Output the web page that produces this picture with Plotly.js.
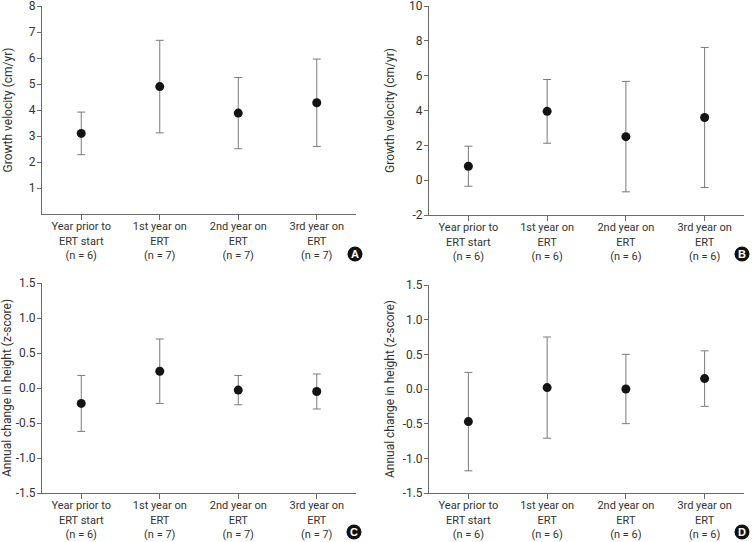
<!DOCTYPE html>
<html>
<head>
<meta charset="utf-8">
<script src="https://cdn.plot.ly/plotly-3.0.1.min.js"></script>
<style>html,body{margin:0;padding:0;background:#fff;}#chart{width:752px;height:542px;}</style>
</head>
<body>
<div id="chart"></div>
<script>
// ---- data ----
const periods = ["Year prior to<br>ERT start", "1st year on<br>ERT", "2nd year on<br>ERT", "3rd year on<br>ERT"];
const nA = [6, 7, 7, 7];
const nB = [6, 6, 6, 6];
const nC = [6, 7, 7, 7];
const nD = [6, 6, 6, 6];

const meanA = [3.10, 4.90, 3.88, 4.28];
const sdA   = [0.82, 1.78, 1.37, 1.68];
const meanB = [0.80, 3.95, 2.50, 3.60];
const sdB   = [1.15, 1.83, 3.17, 4.02];
const meanC = [-0.22, 0.24, -0.03, -0.05];
const sdC   = [0.40, 0.46, 0.21, 0.25];
const meanD = [-0.47, 0.02, 0.00, 0.15];
const sdD   = [0.71, 0.73, 0.50, 0.40];

const ticksA = [1, 2, 3, 4, 5, 6, 7, 8];
const labelsA = ["1", "2", "3", "4", "5", "6", "7", "8"];
const ticksB = [-2, 0, 2, 4, 6, 8, 10];
const labelsB = ["-2", "0", "2", "4", "6", "8", "10"];
const ticksCD = [-1.5, -1.0, -0.5, 0.0, 0.5, 1.0, 1.5];
const labelsCD = ["-1.5", "-1.0", "-0.5", "0.0", "0.5", "1.0", "1.5"];
const panelLetters = ["A", "B", "C", "D"];
const titleGV = "Growth velocity (cm/yr)";
const titleHt = "Annual change in height (z-score)";

// ---- build ----
function cats(n) { return periods.map((p, i) => p + "<br>(n = " + n[i] + ")"); }

const FONT = "Roboto, Arial, sans-serif";
const AX = "#6a6a6a";
const TXT = "#333";

function trace(xa, ya, n, mean, sd) {
  return {
    type: "scatter", mode: "markers",
    x: cats(n), y: mean, xaxis: xa, yaxis: ya,
    marker: {size: 9, color: "#141414"},
    error_y: {type: "data", array: sd, visible: true, color: "#7a7a7a", thickness: 1, width: 4},
    showlegend: false, hoverinfo: "skip"
  };
}

const data = [
  trace("x", "y", nA, meanA, sdA),
  trace("x2", "y2", nB, meanB, sdB),
  trace("x3", "y3", nC, meanC, sdC),
  trace("x4", "y4", nD, meanD, sdD)
];

function xaxis(dom, anchor) {
  return {
    domain: dom, anchor: anchor, type: "category", range: [-0.5, 3.5],
    showline: true, linecolor: AX, linewidth: 1, showgrid: false, zeroline: false,
    ticks: "outside", ticklen: 5, tickcolor: AX, ticklabelstandoff: -3,
    tickfont: {family: FONT, size: 11, color: TXT}
  };
}
function yaxis(dom, anchor, range, tickvals, ticktext, title, standoff) {
  return {
    domain: dom, anchor: anchor, range: range, tickvals: tickvals, ticktext: ticktext,
    showline: true, linecolor: AX, linewidth: 1, showgrid: false, zeroline: false,
    ticks: "outside", ticklen: 4, tickcolor: AX, ticklabeloverflow: "allow",
    ticklabelstandoff: -1,
    tickfont: {family: FONT, size: 12, color: TXT},
    title: {text: title, font: {family: FONT, size: 12, color: TXT}, standoff: standoff}
  };
}

const W = 752, H = 542;
const px = v => v / W, py = v => 1 - v / H;

const xL = [px(42), px(356)], xR = [px(429), px(744)];
const layout = {
  width: W, height: H, margin: {l: 0, r: 0, t: 0, b: 0},
  paper_bgcolor: "#fff", plot_bgcolor: "#fff",
  font: {family: FONT},
  xaxis: xaxis(xL, "y"),
  yaxis: yaxis([py(214), py(6)], "x", [0, 8], ticksA, labelsA, titleGV, 13),
  xaxis2: xaxis(xR, "y2"),
  yaxis2: yaxis([py(215), py(6)], "x2", [-2, 10], ticksB, labelsB, titleGV, 11),
  xaxis3: xaxis(xL, "y3"),
  yaxis3: yaxis([py(493), py(283)], "x3", [-1.5, 1.5], ticksCD, labelsCD, titleHt, 6),
  xaxis4: xaxis(xR, "y4"),
  yaxis4: yaxis([py(493), py(285)], "x4", [-1.5, 1.5], ticksCD, labelsCD, titleHt, 5),
  shapes: [], annotations: []
};

const letterPos = [[355, 254], [742, 254], [354, 532], [742, 532]];
panelLetters.forEach((L, i) => {
  const [cx, cy] = letterPos[i];
  layout.shapes.push({type: "circle", xref: "paper", yref: "paper",
    x0: px(cx - 7.5), x1: px(cx + 7.5), y0: py(cy + 7.5), y1: py(cy - 7.5),
    fillcolor: "#111", line: {color: "#111", width: 0}});
  layout.annotations.push({xref: "paper", yref: "paper", x: px(cx), y: py(cy),
    text: "<b>" + L + "</b>", showarrow: false, xanchor: "center", yanchor: "middle",
    font: {family: "Arial, sans-serif", size: 11, color: "#fff"}});
});

Plotly.newPlot("chart", data, layout, {displayModeBar: false, staticPlot: true});
</script>
</body>
</html>
